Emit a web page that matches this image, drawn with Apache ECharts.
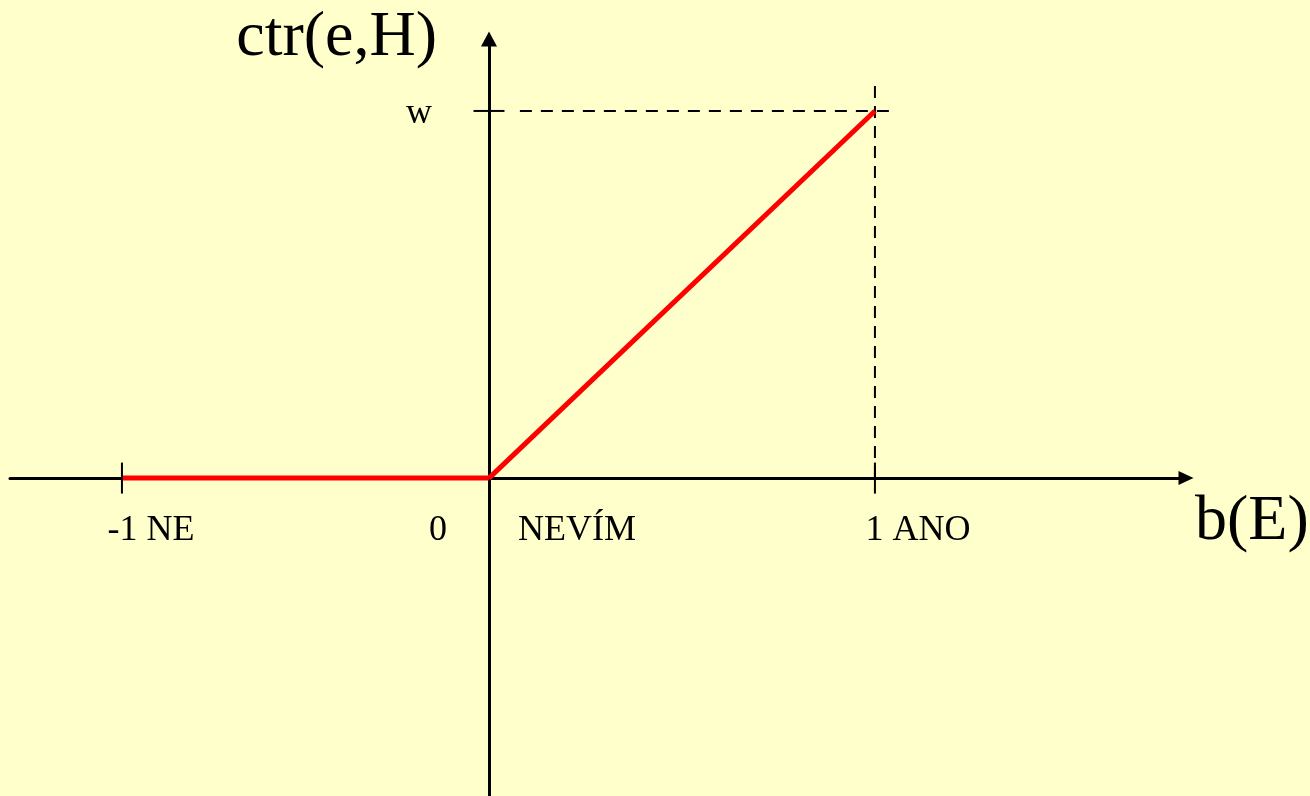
<!DOCTYPE html>
<html>
<head>
<meta charset="utf-8">
<script src="https://cdn.jsdelivr.net/npm/echarts@6/dist/echarts.min.js"></script>
<style>
  html, body { margin: 0; padding: 0; background: #ffffcc; }
  #chart { width: 1310px; height: 796px; }
</style>
</head>
<body>
<div id="chart"></div>
<script>
// data
var noPart = [[-1, 0], [0, 0]];          // b(E) from -1 to 0 -> ctr = 0
var yesPart = [[0, 0], [1, 1]];          // b(E) from 0 to 1 -> ctr rises to w
var guideH = [[0.08, 1], [1.04, 1]];     // dashed line at w
var guideV = [[1, 0], [1, 1.09]];        // dashed line at 1 ANO
var tickLabels = ['-1 NE', '0', 'NEVÍM', '1 ANO'];
var yTickLabel = 'w';

var serif = "'Liberation Serif', 'Times New Roman', serif";
var chart = echarts.init(document.getElementById('chart'));

function hiddenParts(axis) {
  axis.axisLabel = { show: false };
  axis.axisTick = { show: false };
  axis.splitLine = { show: false };
  return axis;
}

var yRange = { min: -0.866, max: 1.196 };
var labelStyle = { show: true, position: 'inside', fontFamily: serif, fontSize: 36, color: '#000', align: 'center', verticalAlign: 'middle' };

var option = {
  backgroundColor: '#ffffcc',
  animation: false,
  grid: [
    { left: 10, top: 39, width: 479, height: 757, outerBoundsMode: 'none' },
    { left: 489, top: 39, width: 697, height: 757, outerBoundsMode: 'none' }
  ],
  xAxis: [
    hiddenParts({
      type: 'value', gridIndex: 0, min: -1.305, max: 0,
      axisLine: { show: true, lineStyle: { color: '#000', width: 3 } }
    }),
    hiddenParts({
      type: 'value', gridIndex: 1, min: 0, max: 1.806,
      name: 'b(E)', nameLocation: 'end', nameGap: 9,
      nameTextStyle: { fontFamily: serif, fontSize: 64, color: '#000', verticalAlign: 'top', padding: [12, 0, 0, 0] },
      axisLine: { show: true, symbol: ['none', 'triangle'], symbolSize: [14, 15], lineStyle: { color: '#000', width: 3 } }
    })
  ],
  yAxis: [
    hiddenParts({ type: 'value', gridIndex: 0, min: yRange.min, max: yRange.max, axisLine: { show: false } }),
    hiddenParts({
      type: 'value', gridIndex: 1, min: yRange.min, max: yRange.max,
      name: 'ctr(e,H)', nameLocation: 'end', nameGap: 1,
      nameTextStyle: { fontFamily: serif, fontSize: 64, color: '#000', align: 'right', verticalAlign: 'middle', padding: [0, 52, 0, 0] },
      axisLine: { show: true, symbol: ['none', 'triangle'], symbolSize: [16, 15], lineStyle: { color: '#000', width: 3 } }
    })
  ],
  series: [
    {
      type: 'line', xAxisIndex: 1, yAxisIndex: 1, data: guideH, symbol: 'none',
      lineStyle: { color: '#000', width: 2, type: [12, 9] }
    },
    {
      type: 'line', xAxisIndex: 1, yAxisIndex: 1, data: guideV, symbol: 'none',
      lineStyle: { color: '#000', width: 2, type: [12, 8] }
    },
    {
      type: 'line', xAxisIndex: 0, yAxisIndex: 0, data: noPart, symbol: 'none',
      lineStyle: { color: '#ff0000', width: 5 }, z: 5
    },
    {
      type: 'line', xAxisIndex: 1, yAxisIndex: 1, data: yesPart, symbol: 'none',
      lineStyle: { color: '#ff0000', width: 5 }, z: 5
    },
    // tick marks
    {
      type: 'scatter', xAxisIndex: 0, yAxisIndex: 0, symbol: 'rect',
      itemStyle: { color: '#000', opacity: 1 }, z: 6,
      data: [{ value: noPart[0], symbolSize: [2, 31] }]
    },
    {
      type: 'scatter', xAxisIndex: 1, yAxisIndex: 1, symbol: 'rect',
      itemStyle: { color: '#000', opacity: 1 }, z: 6,
      data: [
        { value: [yesPart[1][0], 0], symbolSize: [2, 31] },
        { value: [0, yesPart[1][1]], symbolSize: [31, 2] }
      ]
    },
    // tick labels
    {
      type: 'scatter', xAxisIndex: 0, yAxisIndex: 0, symbolSize: 1,
      itemStyle: { color: 'rgba(0,0,0,0)', opacity: 1 },
      label: labelStyle,
      data: [{ value: [-1, 0], label: { formatter: tickLabels[0], offset: [29, 52] } }]
    },
    {
      type: 'scatter', xAxisIndex: 1, yAxisIndex: 1, symbolSize: 1,
      itemStyle: { color: 'rgba(0,0,0,0)', opacity: 1 },
      label: labelStyle,
      data: [
        { value: [0, 0], label: { formatter: tickLabels[1], offset: [-51, 52] } },
        { value: [0, 0], label: { formatter: tickLabels[2], offset: [88, 52] } },
        { value: [1, 0], label: { formatter: tickLabels[3], offset: [43, 52] } },
        { value: [0, 1], label: { formatter: yTickLabel, offset: [-70, 3] } }
      ]
    }
  ]
};

chart.setOption(option);
</script>
</body>
</html>
